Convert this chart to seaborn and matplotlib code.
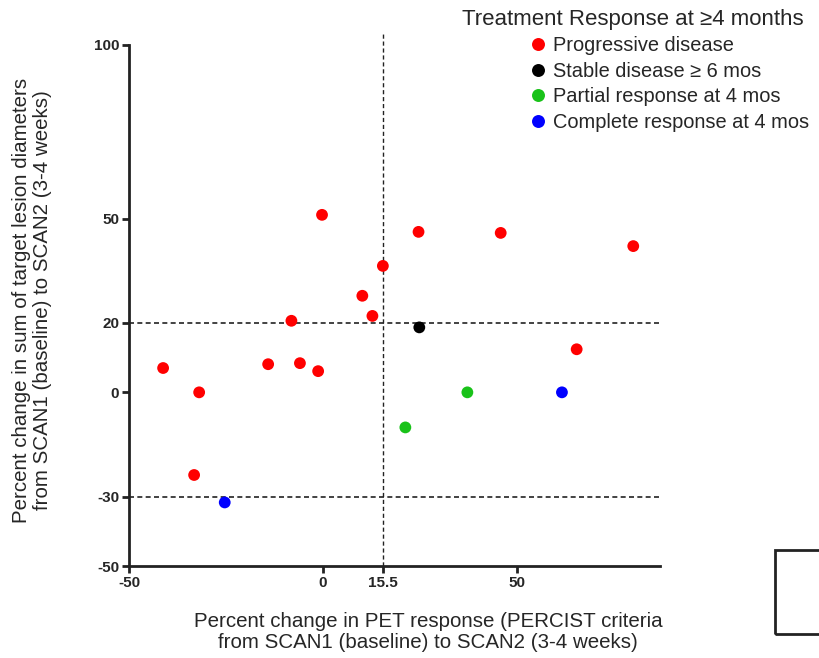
import matplotlib
matplotlib.use("Agg")
import matplotlib.pyplot as plt
import seaborn as sns
import pandas as pd
from matplotlib.patches import Rectangle

# ---- data ----
categories = ["Progressive disease", "Stable disease \u2265 6 mos",
              "Partial response at 4 mos", "Complete response at 4 mos"]
colors = ["#ff0000", "#000000", "#19c219", "#0000ff"]

pd_x = [-0.2, 24.7, 15.5, 10.2, 12.8, -8.1, -41.2, -31.9, -14.1, -5.9, -1.2, -33.2, 45.9, 80.1, 65.5]
pd_y = [51.1, 46.2, 36.4, 27.8, 22.0, 20.6, 7.0, 0.0, 8.1, 8.4, 6.1, -23.8, 45.9, 42.1, 12.4]
sd_x = [24.9]
sd_y = [18.7]
pr_x = [21.3, 37.3]
pr_y = [-10.1, 0.0]
cr_x = [-25.3, 61.7]
cr_y = [-31.7, 0.0]

x_ticks = [-50, 0, 15.5, 50]
x_ticklabels = ["-50", "0", "15.5", "50"]
y_ticks = [-50, -30, 0, 20, 50, 100]
h_refs = [20, -30]
v_ref = 15.5

rows = []
for cat, xs, ys in zip(categories, [pd_x, sd_x, pr_x, cr_x], [pd_y, sd_y, pr_y, cr_y]):
    for a, b in zip(xs, ys):
        rows.append({"x": a, "y": b, "response": cat})
df = pd.DataFrame(rows)

sns.set_style("white")
plt.rcParams["font.family"] = ["Liberation Sans", "DejaVu Sans"]

fig = plt.figure(figsize=(8.19, 6.58), dpi=100)
ax = fig.add_axes([129/819, 1-566/658, (660-129)/819, (566-45)/658])

sns.scatterplot(data=df, x="x", y="y", hue="response", hue_order=categories,
                palette=dict(zip(categories, colors)), s=72, edgecolor="none",
                ax=ax, legend=True, zorder=3)

ax.set_xlim(-50, 87)
ax.set_ylim(-50, 100)

for h in h_refs:
    ax.axhline(h, color="#222222", lw=1.2, ls=(0, (3, 2)), zorder=1)
ax.axvline(v_ref, ymin=0, ymax=1.023, color="#222222", lw=1.0, ls=(0, (3, 2)),
           clip_on=False, zorder=1)

ax.set_xticks(x_ticks)
ax.set_xticklabels(x_ticklabels)
ax.set_yticks(y_ticks)
ax.set_yticklabels([str(t) for t in y_ticks])
for lab in ax.get_xticklabels() + ax.get_yticklabels():
    lab.set_fontweight("bold")
    lab.set_fontsize(11)
ax.tick_params(direction="out", length=5, width=2, color="#222222", pad=2,
               bottom=True, left=True)
ax.set_xlabel("")
ax.set_ylabel("")
sns.despine(ax=ax)
for sp in ["left", "bottom"]:
    ax.spines[sp].set_linewidth(2)
    ax.spines[sp].set_color("#222222")

leg = ax.legend(loc="upper left", bbox_to_anchor=(532/819, 1-36/658),
                bbox_transform=fig.transFigure, frameon=False, fontsize=14.4,
                handlelength=0.6, handletextpad=0.45, labelspacing=0.33,
                borderpad=0, borderaxespad=0, markerscale=1.1)
fig.text(633/819, 1-19/658, "Treatment Response at \u22654 months", ha="center",
         va="center", fontsize=16)

fig.text(428/819, 1-632/658,
         "Percent change in PET response (PERCIST criteria\nfrom SCAN1 (baseline) to SCAN2 (3-4 weeks)",
         ha="center", va="center", fontsize=14.8, multialignment="center",
         linespacing=1.15)
fig.text(32/819, 1-300/658,
         "Percent change in sum of target lesion diameters\nfrom SCAN1 (baseline) to SCAN2 (3-4 weeks)",
         ha="center", va="center", rotation=90, fontsize=14.8,
         multialignment="center", linespacing=1.15)

fig.patches.append(Rectangle((775/819, 1-634/658), 60/819, 84/658, fill=False,
                             lw=2, edgecolor="#222222",
                             transform=fig.transFigure, figure=fig))

fig.savefig("out.png", dpi=100)
